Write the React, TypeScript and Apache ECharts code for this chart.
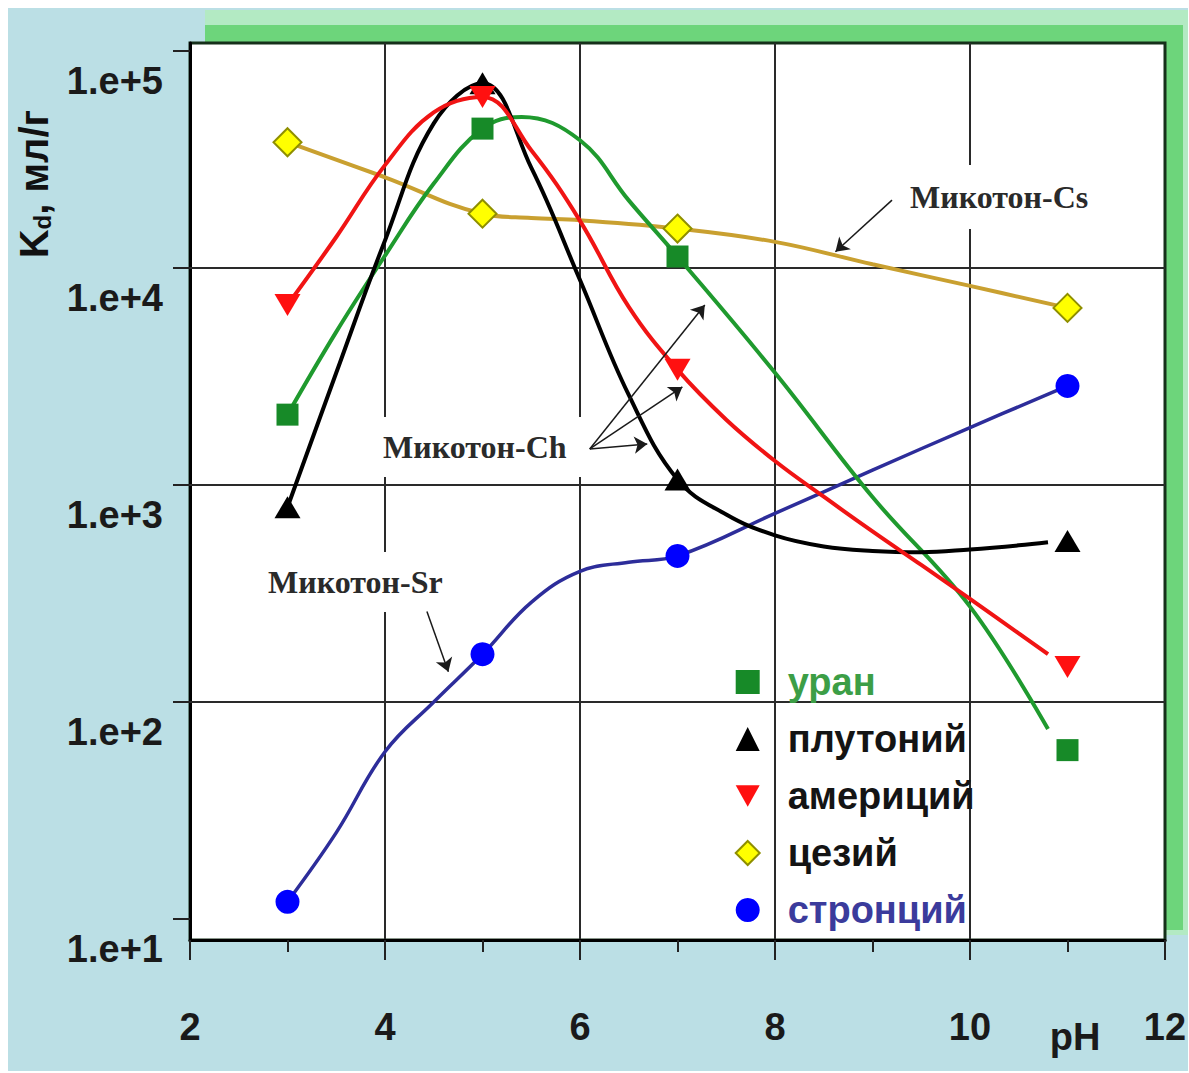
import React, { useEffect, useRef } from "react";
import * as echarts from "echarts";

// ---- data ----
const markerPH = [3, 5, 7, 11];
const uranMarkers = [2110, 43900, 11300, 60];
const plutoniumMarkers = [790, 71000, 1060, 552];
const americiumMarkers = [6760, 61400, 3400, 145];
const cesiumMarkers = [38000, 17800, 15200, 6550];
const strontiumMarkers = [12, 166, 471, 2860];

const uranCurvePH = [3, 3.5, 4, 4.5, 5, 5.4, 6, 6.5, 7, 8, 9, 10, 10.8];
const uranCurve = [2110, 5080, 11400, 24500, 43900, 49700, 38800, 20500, 11300, 3290, 880, 275, 75];

const plutoniumCurvePH = [3, 3.5, 4, 4.5, 5, 5.5, 6, 6.5, 7, 7.5, 8, 8.5, 9, 9.5, 10, 10.5, 10.8];
const plutoniumCurve = [790, 3290, 13400, 46400, 71000, 29000, 8800, 2600, 1060, 731, 586, 521, 497, 490, 505, 527, 545];

const americiumCurvePH = [3, 3.5, 4, 4.5, 5, 5.5, 6, 6.5, 7, 7.5, 8, 8.5, 9, 9.5, 10, 10.5, 10.8];
const americiumCurve = [6760, 13900, 29800, 52100, 61400, 34900, 16500, 6620, 3400, 2000, 1290, 883, 611, 428, 299, 207, 166];

const cesiumCurvePH = [3, 4, 5, 5.5, 6, 7, 8, 9, 10, 11];
const cesiumCurve = [38000, 26200, 17800, 17000, 16600, 15200, 13200, 10400, 8270, 6550];

const strontiumCurvePH = [3, 3.5, 4, 4.5, 5, 5.5, 6, 6.5, 7, 8, 9, 10, 11];
const strontiumCurve = [12, 25, 59, 100, 166, 288, 400, 441, 471, 740, 1170, 1840, 2860];

const legendNames = ["уран", "плутоний", "америций", "цезий", "стронций"];
const yTickValues = [10, 100, 1000, 10000, 100000];
const yGridValues = [100, 1000, 10000];

// annotation arrows (data coordinates: pH, Kd)
const csArrow = [[9.2, 20550], [8.62, 11890]];
const chArrowStart = [6.1, 1466];
const chArrowEnds = [[7.28, 6750], [7.05, 2830], [6.69, 1545]];
const srArrow = [[4.43, 261], [4.65, 138]];

const SANS = "'Liberation Sans', Arial, sans-serif";
const SERIF = "'Liberation Serif', 'Times New Roman', serif";
const DOWN_TRI = "path://M0,0L10,0L5,9Z";

const zip = (xs: number[], ys: number[]) => xs.map((x, i) => [x, ys[i]]);

export default function App() {
  const ref = useRef<HTMLDivElement>(null);

  useEffect(() => {
    if (!ref.current) return;
    const chart = echarts.init(ref.current, undefined, { renderer: "svg" });

    const curve = (name: string, xs: number[], ys: number[], color: string, width: number, extra: any = {}) => ({
      name,
      type: "line",
      data: zip(xs, ys),
      smooth: 0.4,
      showSymbol: false,
      symbol: "none",
      silent: true,
      lineStyle: { color, width },
      z: 2,
      ...extra,
    });

    const arrowData = [
      [{ coord: csArrow[0] }, { coord: csArrow[1] }],
      ...chArrowEnds.map((e) => [{ coord: chArrowStart }, { coord: e }]),
      [{ coord: srArrow[0] }, { coord: srArrow[1] }],
    ];

    const annText = (x: number, y: number, text: string, pad: number[]) => ({
      type: "text",
      x,
      y,
      z: 1,
      silent: true,
      style: {
        text,
        fontFamily: SERIF,
        fontWeight: "bold",
        fontSize: 32,
        fill: "#2a2a2a",
        align: "left",
        verticalAlign: "middle",
        backgroundColor: "#ffffff",
        padding: pad,
      },
    });

    const scatter = (name: string, values: number[], symbol: string, size: any, itemStyle: any) => ({
      name,
      type: "scatter",
      data: zip(markerPH, values),
      symbol,
      symbolSize: size,
      itemStyle: { opacity: 1, ...itemStyle },
      z: 4,
    });

    const option: any = {
      animation: false,
      backgroundColor: "#bbdfe5",
      grid: {
        left: 182,
        top: 35,
        right: 23,
        bottom: 131,
        show: true,
        backgroundColor: "#ffffff",
        borderColor: "#16301a",
        borderWidth: 3,
        containLabel: false,
        outerBoundsMode: "none",
      },
      xAxis: {
        type: "value",
        min: 2,
        max: 12,
        interval: 2,
        axisLine: { show: true, onZero: false, lineStyle: { color: "#000", width: 3 } },
        axisTick: { show: true, inside: false, length: 20, lineStyle: { color: "#222", width: 2 } },
        minorTick: { show: true, splitNumber: 2, length: 12, lineStyle: { color: "#222", width: 2 } },
        axisLabel: { margin: 68, fontSize: 38, fontWeight: "bold", color: "#1a1a1a", fontFamily: SANS },
        splitLine: { show: true, showMinLine: false, showMaxLine: false, lineStyle: { color: "#2a2a2a", width: 2 } },
      },
      yAxis: {
        type: "log",
        logBase: 10,
        min: 8,
        max: 108900,
        axisLine: { show: true, onZero: false, lineStyle: { color: "#000", width: 3 } },
        axisTick: { show: true, length: 17, customValues: yTickValues, lineStyle: { color: "#222", width: 2 } },
        minorTick: { show: false },
        axisLabel: {
          customValues: yTickValues,
          formatter: (v: number) => "1.e+" + Math.round(Math.log10(v)),
          margin: 27,
          fontSize: 38,
          fontWeight: "bold",
          color: "#1a1a1a",
          fontFamily: SANS,
          verticalAlign: "top",
          lineHeight: 60,
        },
        splitLine: { show: false },
      },
      legend: {
        orient: "vertical",
        left: 726.7,
        top: 655,
        padding: 0,
        itemWidth: 24,
        itemHeight: 24,
        itemGap: 19,
        selectedMode: false,
        textStyle: {
          fontFamily: SANS,
          fontSize: 38,
          fontWeight: "bold",
          color: "#141414",
          lineHeight: 38,
          padding: [0, 0, 0, 23],
        },
        data: [
          { name: legendNames[0], icon: "rect", textStyle: { color: "#3c9e46" } },
          { name: legendNames[1], icon: "triangle" },
          { name: legendNames[2], icon: DOWN_TRI },
          { name: legendNames[3], icon: "diamond" },
          { name: legendNames[4], icon: "circle", textStyle: { color: "#3b3b9c" } },
        ],
      },
      graphic: [
        { type: "rect", z: -10, silent: true, shape: { x: 197, y: 2, width: 983, height: 925 }, style: { fill: "#b3eac3" } },
        { type: "rect", z: -9, silent: true, shape: { x: 197, y: 17, width: 978, height: 905 }, style: { fill: "#6dd57b" } },
        annText(888, 189, "Микотон-Cs", [16, 14, 16, 14]),
        annText(361, 439, "Микотон-Ch", [14, 25, 14, 14]),
        annText(246, 574, "Микотон-Sr", [14, 14, 14, 14]),
        {
          type: "text",
          x: 26,
          y: 176,
          rotation: Math.PI / 2,
          silent: true,
          style: {
            text: "{k|K}{d|d}{k|, мл/г}",
            align: "center",
            verticalAlign: "middle",
            fill: "#111",
            rich: {
              k: { fontFamily: SANS, fontWeight: "bold", fontSize: 40, fill: "#111", lineHeight: 40 },
              d: { fontFamily: SANS, fontWeight: "bold", fontSize: 24, fill: "#111", verticalAlign: "bottom", lineHeight: 24 },
            },
          },
        },
        {
          type: "text",
          x: 1067,
          y: 1029,
          silent: true,
          style: {
            text: "pH",
            fontFamily: SANS,
            fontWeight: "bold",
            fontSize: 38,
            fill: "#1a1a1a",
            align: "center",
            verticalAlign: "middle",
          },
        },
      ],
      series: [
        curve("Sr-curve", strontiumCurvePH, strontiumCurve, "#2d2d9a", 3.5, {
          markLine: {
            z: 1,
            silent: true,
            symbol: "none",
            label: { show: false },
            lineStyle: { color: "#2a2a2a", width: 2, type: "solid" },
            data: yGridValues.map((v) => ({ yAxis: v })),
          },
        }),
        curve("Cs-curve", cesiumCurvePH, cesiumCurve, "#c9a030", 4, {
          markLine: {
            z: 6,
            silent: true,
            symbol: ["none", "arrow"],
            symbolSize: 13,
            label: { show: false },
            lineStyle: { color: "#1a1a1a", width: 1.5, type: "solid" },
            data: arrowData,
          },
        }),
        curve("U-curve", uranCurvePH, uranCurve, "#1f9a2e", 4),
        curve("Pu-curve", plutoniumCurvePH, plutoniumCurve, "#000000", 4),
        curve("Am-curve", americiumCurvePH, americiumCurve, "#f01414", 4),
        scatter(legendNames[0], uranMarkers, "rect", 22, { color: "#178a28" }),
        scatter(legendNames[1], plutoniumMarkers, "triangle", [26, 22], { color: "#000000" }),
        scatter(legendNames[2], americiumMarkers, DOWN_TRI, [26, 22], { color: "#ff1010" }),
        scatter(legendNames[3], cesiumMarkers, "diamond", [28, 28], { color: "#ffff00", borderColor: "#8f8f00", borderWidth: 2 }),
        scatter(legendNames[4], strontiumMarkers, "circle", 24, { color: "#0000ff" }),
      ],
    };

    chart.setOption(option);
    return () => chart.dispose();
  }, []);

  return (
    <div
      ref={ref}
      style={{ position: "absolute", left: 8, top: 8, width: 1180, height: 1063 }}
    />
  );
}
